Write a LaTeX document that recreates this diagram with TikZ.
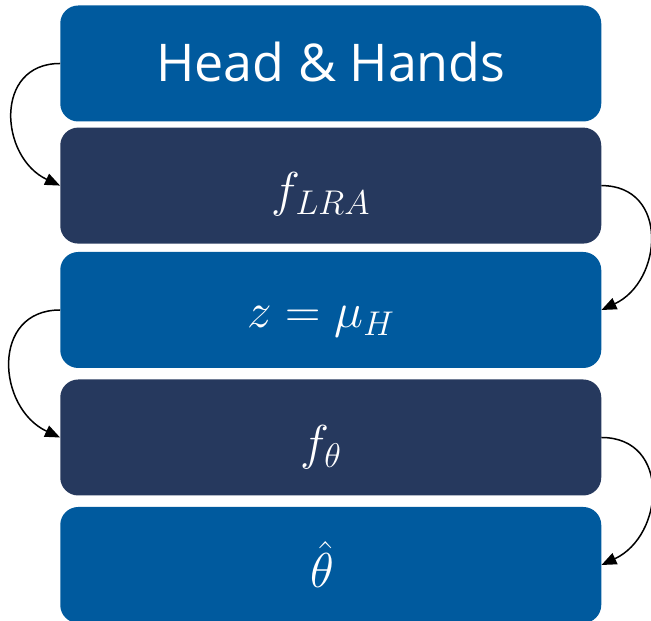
\RequirePackage{fix-cm}
\documentclass[tikz,border=0pt]{standalone}
\usepackage[no-math]{fontspec}
\setmainfont{Open Sans}
\usetikzlibrary{arrows.meta}
\definecolor{boxblue}{RGB}{0,90,158}
\definecolor{boxnavy}{RGB}{38,57,94}
\tikzset{
  stage/.style={rectangle, rounded corners=18pt, minimum width=541pt,
    minimum height=116pt, inner sep=0pt, draw=none},
  lightstage/.style={stage, fill=boxblue},
  darkstage/.style={stage, fill=boxnavy},
  caption/.style={text=white, anchor=base, inner sep=0pt},
  mathcap/.style={caption, font=\fontsize{49}{57}\selectfont},
  flow/.style={line width=1.5pt, -{Triangle[length=15pt,width=12pt]},
    looseness=1.4}
}
\begin{document}
\begin{tikzpicture}[x=1pt,y=1pt]
\useasboundingbox (0,0) rectangle (651,621);
% pipeline stages, top to bottom
\node[lightstage] (b1) at (330.75,557.5) {};
\node[darkstage]  (b2) at (330.75,435.4) {};
\node[lightstage] (b3) at (330.75,311) {};
\node[darkstage]  (b4) at (330.75,183.5) {};
\node[lightstage] (b5) at (330.75,56) {};
% stage labels
\node[caption, font=\fontsize{52}{62}\selectfont] (t1) at (331,539) {Head \& Hands};
\node[mathcap] (t2) at (321,414) {$f_{LRA}$};
\node[mathcap] (t3) at (321,293) {$z=\mu_H$};
\node[mathcap] (t4) at (321,161) {$f_\theta$};
\node[mathcap] (t5) at (322,33) {$\hat{\theta}$};
% connectors alternating sides
\draw[flow] (b1.west) to[out=180,in=155] (b2.west);
\draw[flow] (b2.east) to[out=0,in=25] (b3.east);
\draw[flow] (b3.west) to[out=180,in=155] (b4.west);
\draw[flow] (b4.east) to[out=0,in=25] (b5.east);
\end{tikzpicture}
\end{document}
